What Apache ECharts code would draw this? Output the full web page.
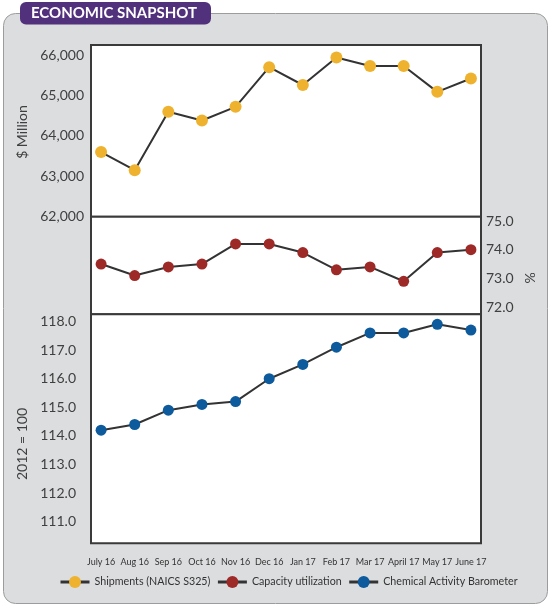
<!DOCTYPE html>
<html><head><meta charset="utf-8">
<script src="https://cdn.jsdelivr.net/npm/echarts@6/dist/echarts.min.js"></script>
<style>html,body{margin:0;padding:0;background:#fff}#c{width:550px;height:610px}</style>
</head><body><div id="c"></div>
<script>
const months = ['July 16','Aug 16','Sep 16','Oct 16','Nov 16','Dec 16','Jan 17','Feb 17','Mar 17','April 17','May 17','June 17'];
const shipments = [63600,63150,64600,64380,64720,65700,65260,65940,65730,65730,65090,65420];
const capacity = [73.5,73.1,73.4,73.5,74.2,74.2,73.9,73.3,73.4,72.9,73.9,74.0];
const cab = [114.2,114.4,114.9,115.1,115.2,116.0,116.5,117.1,117.6,117.6,117.9,117.7];
const shipTicks = [62000,63000,64000,65000,66000];
const capTicks = [72,73,74,75];
const cabTicks = [111,112,113,114,115,116,117,118];
const seriesNames = ['Shipments (NAICS S325)','Capacity utilization','Chemical Activity Barometer'];
const title = 'ECONOMIC SNAPSHOT';
const axisNames = ['$ Million','%','2012 = 100'];

const F = 'Lato, "Open Sans", sans-serif';
const chart = echarts.init(document.getElementById('c'));
const toPairs = arr => arr.map((v, i) => [i, v]);
const near = (v, list) => list.some(t => Math.abs(t - v) < 1e-6);
const gridBase = {show: true, left: 91, width: 390, backgroundColor: '#fff', borderColor: '#3a3a3a', borderWidth: 2};
const hidden = {axisLine: {show: false}, axisTick: {show: false}, splitLine: {show: false}};
const lblStyle = {fontFamily: F, fontSize: 14, color: '#404040'};

chart.setOption({
  animation: false,
  grid: [
    Object.assign({top: 45, height: 171.7}, gridBase),
    Object.assign({top: 216.7, height: 97.6}, gridBase),
    Object.assign({top: 314.3, height: 229}, gridBase)
  ],
  xAxis: [
    Object.assign({type: 'value', gridIndex: 0, min: -0.3, max: 11.3, axisLabel: {show: false}}, hidden),
    Object.assign({type: 'value', gridIndex: 1, min: -0.3, max: 11.3, axisLabel: {show: false}}, hidden),
    Object.assign({type: 'value', gridIndex: 2, min: -0.3, max: 11.3, interval: 0.1,
      axisLabel: {fontFamily: F, fontSize: 9, color: '#333', margin: 14,
        formatter: v => { const i = Math.round(v); return (Math.abs(v - i) < 1e-6 && months[i]) ? months[i] : ''; }}}, hidden)
  ],
  yAxis: [
    Object.assign({type: 'value', gridIndex: 0, position: 'left', min: 62000, max: 66250, interval: 250,
      axisLabel: Object.assign({margin: 7, formatter: v => near(v, shipTicks) ? v.toLocaleString('en-US') : ''}, lblStyle)}, hidden),
    Object.assign({type: 'value', gridIndex: 1, position: 'right', min: 71.75, max: 75.15, interval: 0.25,
      axisLabel: Object.assign({margin: 5, formatter: v => near(v, capTicks) ? v.toFixed(1) : ''}, lblStyle)}, hidden),
    Object.assign({type: 'value', gridIndex: 2, position: 'left', min: 110.25, max: 118.25, interval: 0.25,
      axisLabel: Object.assign({margin: 15, formatter: v => near(v, cabTicks) ? v.toFixed(1) : ''}, lblStyle)}, hidden)
  ],
  legend: {
    left: 59, top: 576, width: 491, padding: 0, itemWidth: 29, itemHeight: 15, itemGap: 6,
    textStyle: {fontFamily: F, fontSize: 10.7, color: '#333'},
    lineStyle: {width: 3, color: '#333'},
    data: seriesNames
  },
  series: [
    {type: 'line', name: seriesNames[0], xAxisIndex: 0, yAxisIndex: 0, data: toPairs(shipments),
      symbol: 'circle', symbolSize: 12, itemStyle: {color: '#EEB22E'}, lineStyle: {color: '#333', width: 2}},
    {type: 'line', name: seriesNames[1], xAxisIndex: 1, yAxisIndex: 1, data: toPairs(capacity),
      symbol: 'circle', symbolSize: 11, itemStyle: {color: '#9E2A28'}, lineStyle: {color: '#333', width: 2}},
    {type: 'line', name: seriesNames[2], xAxisIndex: 2, yAxisIndex: 2, data: toPairs(cab),
      symbol: 'circle', symbolSize: 11, itemStyle: {color: '#0D5A9C'}, lineStyle: {color: '#333', width: 2}}
  ],
  graphic: [
    {type: 'rect', z: -10, shape: {x: 3.5, y: 13.5, width: 544, height: 590, r: 12}, style: {fill: '#dcdddf', stroke: '#9c9c9c', lineWidth: 1}},
    {type: 'rect', z: 5, shape: {x: 20, y: 2, width: 191, height: 22.5, r: 6}, style: {fill: '#51307c'}},
    {type: 'text', z: 6, x: 114, y: 13.5, style: {text: title, fill: '#fff', fontFamily: F, fontSize: 15, fontWeight: 'bold', align: 'center', verticalAlign: 'middle'}},
    {type: 'text', z: 6, x: 22, y: 132, rotation: Math.PI / 2, style: {text: axisNames[0], fill: '#404040', fontFamily: F, fontSize: 14, align: 'center', verticalAlign: 'middle'}},
    {type: 'text', z: 6, x: 530, y: 278, rotation: Math.PI / 2, style: {text: axisNames[1], fill: '#404040', fontFamily: F, fontSize: 14, align: 'center', verticalAlign: 'middle'}},
    {type: 'text', z: 6, x: 22, y: 444, rotation: Math.PI / 2, style: {text: axisNames[2], fill: '#404040', fontFamily: F, fontSize: 14, align: 'center', verticalAlign: 'middle'}}
  ]
});
</script></body></html>
